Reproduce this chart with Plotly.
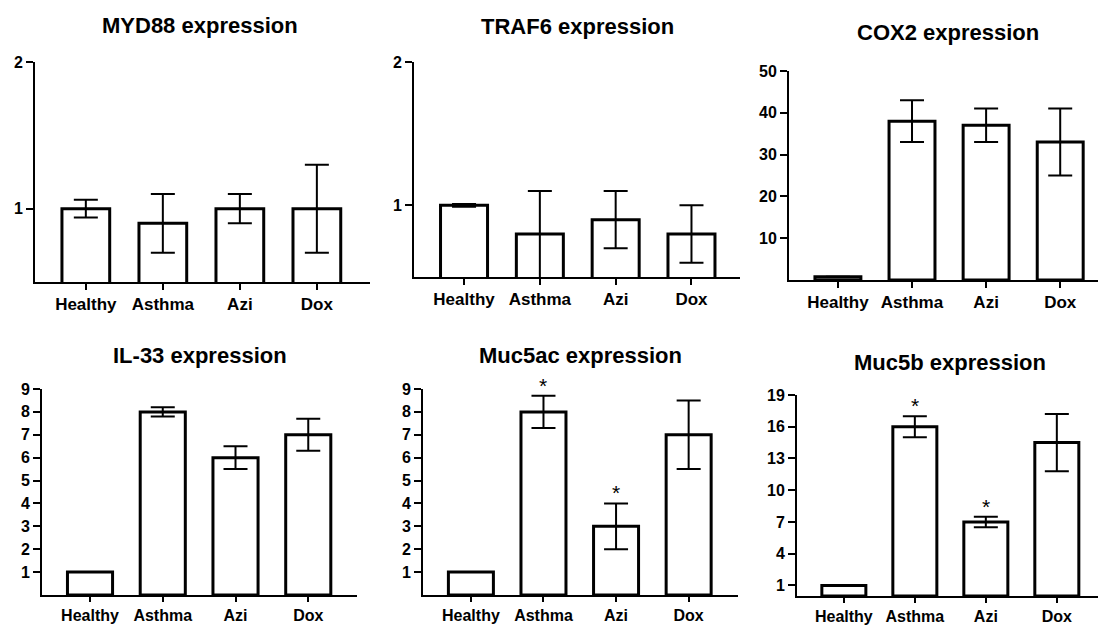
import plotly.graph_objects as go

W, H = 1099, 626

groups = ["Healthy", "Asthma", "Azi", "Dox"]

titles = ["MYD88 expression", "TRAF6 expression", "COX2 expression",
          "IL-33 expression", "Muc5ac expression", "Muc5b expression"]

myd88 = [1.0, 0.9, 1.0, 1.0]
myd88_err = [0.06, 0.2, 0.1, 0.3]

traf6 = [1.0, 0.8, 0.9, 0.8]
traf6_err_up = [0.01, 0.3, 0.2, 0.2]
traf6_err_down = [0.01, 0.35, 0.2, 0.2]

cox2 = [0.8, 38, 37, 33]
cox2_err_up = [0, 5, 4, 8]
cox2_err_down = [0, 5, 4, 8]

il33 = [1.0, 8.0, 6.0, 7.0]
il33_err = [0, 0.2, 0.5, 0.7]

muc5ac = [1.0, 8.0, 3.0, 7.0]
muc5ac_err = [0, 0.7, 1.0, 1.5]
muc5ac_sig = ["", "*", "*", ""]

muc5b = [1.0, 16.0, 7.0, 14.5]
muc5b_err = [0, 1.0, 0.5, 2.7]
muc5b_sig = ["", "*", "*", ""]

y_ranges = [[0.5, 2], [0.5, 2], [0, 50], [0, 9], [0, 9], [0, 19]]
y_ticks = [[1, 2], [1, 2], [10, 20, 30, 40, 50],
           list(range(1, 10)), list(range(1, 10)), [1, 4, 7, 10, 13, 16, 19]]

panels = [
    (myd88, myd88_err, myd88_err, None),
    (traf6, traf6_err_up, traf6_err_down, None),
    (cox2, cox2_err_up, cox2_err_down, None),
    (il33, il33_err, il33_err, None),
    (muc5ac, muc5ac_err, muc5ac_err, muc5ac_sig),
    (muc5b, muc5b_err, muc5b_err, muc5b_sig),
]

# pixel boxes (left, right, top, bottom) of each plotting area
boxes = [(35, 370, 62, 282), (414, 740, 62, 277), (789, 1098, 71, 280),
         (42, 357, 389, 595), (423, 738, 389, 595), (797, 1098, 395, 596)]
x_right = [3.69, 3.64, 3.51, 3.67, 3.68, 3.58]
x_ticklen = [6, 6, 6, 5, 5, 5]
title_pos = [(200, 26), (577, 27), (948, 33), (200, 355), (580, 355), (950, 362)]

FONT = "Liberation Sans, Arial, sans-serif"

fig = go.Figure()
annotations = []
for i, (vals, eu, ed, sig) in enumerate(panels):
    n = i + 1
    xa = "x" if n == 1 else f"x{n}"
    ya = "y" if n == 1 else f"y{n}"
    fig.add_trace(go.Bar(
        x=groups, y=vals, xaxis=xa, yaxis=ya, width=0.62,
        marker=dict(color="white", line=dict(color="black", width=3)),
        error_y=dict(type="data", array=eu, arrayminus=ed, symmetric=False,
                     color="black", thickness=2, width=12),
        showlegend=False, hoverinfo="skip",
    ))
    l, r, t, b = boxes[i]
    xkey = "xaxis" if n == 1 else f"xaxis{n}"
    ykey = "yaxis" if n == 1 else f"yaxis{n}"
    fig.layout[xkey] = dict(
        domain=[l / W, r / W], anchor=ya, type="category", automargin=False,
        range=[-0.66, x_right[i]], showline=True, linecolor="black", linewidth=2,
        ticks="outside", ticklen=x_ticklen[i], tickwidth=2, tickcolor="black",
        showgrid=False, zeroline=False,
        tickfont=dict(family=FONT, size=17 if n <= 3 else 16, color="black", weight="bold"),
        fixedrange=True,
    )
    fig.layout[ykey] = dict(
        domain=[1 - b / H, 1 - t / H], anchor=xa, automargin=False,
        range=y_ranges[i], tickvals=y_ticks[i], showline=True, linecolor="black",
        linewidth=2, ticks="outside", ticklen=7, tickwidth=2, tickcolor="black",
        showgrid=False, zeroline=False,
        tickfont=dict(family=FONT, size=16, color="black", weight="bold"),
        fixedrange=True,
    )
    tx, ty = title_pos[i]
    annotations.append(dict(
        text=f"<b>{titles[i]}</b>", x=tx / W, y=1 - ty / H, xref="paper", yref="paper",
        xanchor="center", yanchor="middle", showarrow=False,
        font=dict(family=FONT, size=22, color="black"),
    ))
    if sig:
        for g, v, e, s in zip(groups, vals, eu, sig):
            if s:
                annotations.append(dict(
                    text=s, x=g, y=v + e, xref=xa, yref=ya, xanchor="center",
                    yanchor="bottom", showarrow=False, yshift=-3,
                    font=dict(family=FONT, size=21, color="black"),
                ))

fig.update_layout(
    width=W, height=H,
    margin=dict(l=0, r=0, t=0, b=0, pad=0, autoexpand=False),
    paper_bgcolor="white", plot_bgcolor="white", bargap=0.38,
    annotations=annotations,
)

fig.write_html(
    "out.html",
    config={"displayModeBar": False},
    post_script="document.body.style.margin='0';document.body.style.overflow='hidden';",
)
